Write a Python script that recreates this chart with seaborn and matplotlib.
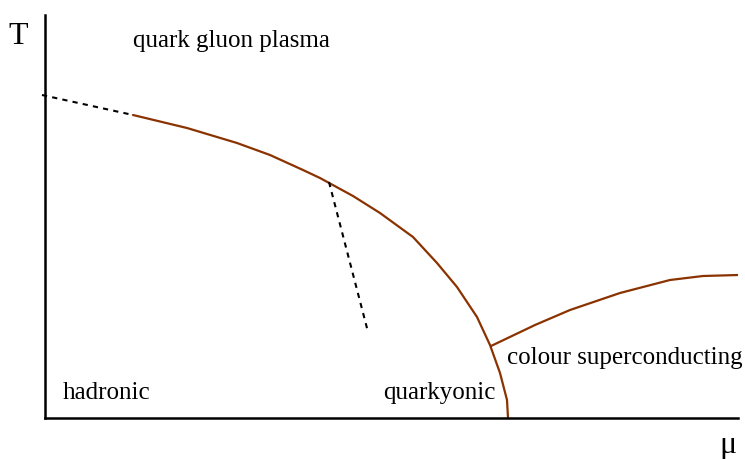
import numpy as np
import pandas as pd
import matplotlib
matplotlib.use("Agg")
import matplotlib.pyplot as plt
import seaborn as sns

# --- datos (mu, T) en unidades arbitrarias ---
# linea de transicion principal (solida)
main_mu = [88, 142, 192, 225, 258, 275, 308, 335, 368, 392, 412, 432, 445, 455, 462, 463]
main_T = [303, 290, 275, 263, 248, 240, 222, 205, 181, 155, 131, 101, 73, 45, 18, 0]
# crossover (punteada) a la izquierda
cross_mu = [-3, 88]
cross_T = [323, 303]
# punteada del punto critico hacia abajo
crit_mu = [284, 323]
crit_T = [236, 86]
# frontera superconductora de color
csc_mu = [446, 490, 525, 575, 625, 658, 693]
csc_T = [72, 93, 108, 125, 138, 142, 143]

labels = ["quark gluon plasma", "hadronic", "quarkyonic", "colour superconducting"]
label_pos = [(88, 377), (18, 25), (338, 25), (462, 60)]

BROWN = "#8b3300"

sns.set_style("white")
plt.rcParams["font.family"] = ["Liberation Serif", "DejaVu Serif"]
plt.rcParams["text.color"] = "black"

fig = plt.figure(figsize=(7.45, 4.59), dpi=100)
ax = fig.add_axes([45 / 745, 41 / 459, 693 / 745, 403 / 459])

df_main = pd.DataFrame({"mu": main_mu, "T": main_T})
df_csc = pd.DataFrame({"mu": csc_mu, "T": csc_T})
df_cross = pd.DataFrame({"mu": cross_mu, "T": cross_T})
df_crit = pd.DataFrame({"mu": crit_mu, "T": crit_T})

sns.lineplot(data=df_main, x="mu", y="T", sort=False, estimator=None, color=BROWN, lw=1.6, ax=ax)
sns.lineplot(data=df_csc, x="mu", y="T", sort=False, estimator=None, color=BROWN, lw=1.6, ax=ax)
sns.lineplot(data=df_cross, x="mu", y="T", sort=False, estimator=None, color="black", lw=1.5,
             ax=ax).lines[-1].set_dashes([2.5, 2.5])
ax.lines[-1].set_clip_on(False)
sns.lineplot(data=df_crit, x="mu", y="T", sort=False, estimator=None, color="black", lw=1.5,
             ax=ax).lines[-1].set_dashes([2.5, 2.5])
for ln in ax.lines:
    ln.set_solid_joinstyle("round")

for txt, (x, y) in zip(labels, label_pos):
    ax.text(x, y, txt, fontsize=18, va="center", ha="left", color="black")

ax.set_xlim(0, 693)
ax.set_ylim(0, 403)
ax.set_xticks([])
ax.set_yticks([])
ax.set_xlabel("")
ax.set_ylabel("")
sns.despine(ax=ax)
for s in ["left", "bottom"]:
    ax.spines[s].set_linewidth(1.8)
    ax.spines[s].set_color("black")

fig.text(18 / 745, 1 - 37 / 459, "T", fontsize=23, ha="center", va="center", color="black")
fig.text(728 / 745, 1 - 445 / 459, "μ", fontsize=23, ha="center", va="center", color="black")

fig.savefig("out.png", dpi=100)
